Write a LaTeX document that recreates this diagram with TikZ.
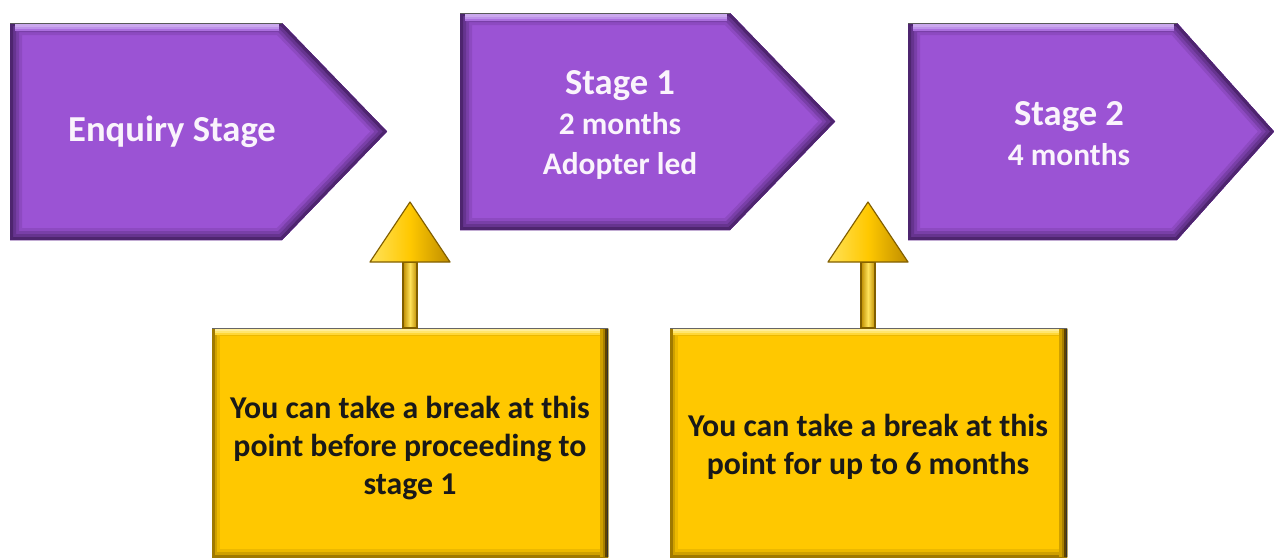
\documentclass[tikz,border=0pt]{standalone}
\usepackage{fontspec}
\setmainfont{Carlito}
\usetikzlibrary{calc}

\definecolor{stagefill}{RGB}{155,83,212}
\definecolor{stagedark}{RGB}{58,26,86}
\definecolor{stagelight}{RGB}{190,146,234}
\definecolor{stagetextcol}{RGB}{250,244,252}
\definecolor{notefill}{RGB}{255,200,0}
\definecolor{notedark}{RGB}{96,68,0}
\definecolor{notelight}{RGB}{255,230,110}
\definecolor{goldlight}{RGB}{255,226,90}
\definecolor{golddark}{RGB}{190,140,0}
\definecolor{goldline}{RGB}{130,95,0}

\tikzset{
  stagetext/.style={text=stagetextcol, align=center, inner sep=0pt,
    font=\bfseries\fontsize{15.7}{20}\selectfont},
  notetext/.style={text=black!90, align=center, inner sep=0pt,
    font=\bfseries\fontsize{15.9}{19}\selectfont},
}

% bevelled pentagon arrow: left, top, shoulder, tip, bottom
\newcommand\StagePentagon[5]{%
  \begin{scope}
    \def\outline{(#1,#2) -- (#3,#2) -- (#4,{(#2+#5)/2}) -- (#3,#5) -- (#1,#5) -- cycle}
    \clip \outline;
    \fill[stagefill] (#1,#2) rectangle (#4,#5);
    \foreach \w/\c in {12/{stagefill!85!stagedark}, 9/{stagefill!65!stagedark},
                       6/{stagefill!45!stagedark}, 3/{stagefill!20!stagedark}}
      \draw[\c, line width=\w pt, line join=miter] \outline;
    \foreach \w/\c in {8/{stagefill!55!stagelight}, 6/{stagelight}, 3.5/{stagelight!80!white}}
      \draw[\c, line width=\w pt] (#1+5,#2) -- (#3-3,#2);
    \draw[black!65, line width=1pt] (#1,#2) -- (#3,#2);
  \end{scope}}

% bevelled note box: left, top, right, bottom
\newcommand\NoteBox[4]{%
  \begin{scope}
    \clip (#1,#2) rectangle (#3,#4);
    \fill[notefill] (#1,#2) rectangle (#3,#4);
    \foreach \w/\c in {8/{notefill!88!notedark}, 5/{notefill!70!notedark}, 2.5/{notefill!40!notedark}}
      \draw[\c, line width=\w pt] (#1,#2) rectangle (#3,#4);
    \foreach \w/\c in {7/{notefill!50!notelight}, 5/{notelight}, 3/{notelight!70!white}}
      \draw[\c, line width=\w pt] (#1+3,#2) -- (#3-6,#2);
    \foreach \w/\c in {8/{notefill!70!notedark}, 5.5/{notefill!45!notedark}, 3/{notedark}, 1.5/{black!80}}
      \draw[\c, line width=\w pt] (#3,#2+1) -- (#3,#4);
    \draw[black!60, line width=1pt] (#1,#2) -- (#3,#2);
  \end{scope}}

% gold up arrow from a box top (#1) to a point (#2)
\newcommand\GoldArrow[2]{%
  \shade[left color=golddark, right color=golddark, middle color=goldlight,
         draw=goldline, line width=0.6pt]
    ($(#1)+(-7,0)$) rectangle ($(#2)+(7,60)$);
  \shade[left color=goldlight, right color=golddark, middle color=notefill,
         draw=goldline, line width=0.6pt, line join=round]
    ($(#2)+(-40,60)$) -- ($(#2)+(40,60)$) -- (#2) -- cycle;}

\begin{document}
\begin{tikzpicture}[x=0.5pt, y=-0.5pt]
  \path[use as bounding box] (0,0) rectangle (1274,558);
  \clip (0,0) rectangle (1274,558);

  % stage arrows
  \StagePentagon{10}{23}{282}{387}{240}
  \StagePentagon{460}{13}{730}{835}{230}
  \StagePentagon{908}{23}{1177}{1274}{240}

  \node[stagetext, font=\bfseries\fontsize{18.3}{22}\selectfont] (enq) at (172,132) {Enquiry Stage};
  \node[stagetext] (st1) at (620,125)
    {{\fontsize{18.3}{20}\selectfont Stage 1}\\2 months\\Adopter led};
  \node[stagetext] (st2) at (1069,134)
    {{\fontsize{18.3}{20}\selectfont Stage 2}\\4 months};

  % break notes
  \NoteBox{212}{328}{608}{557}
  \NoteBox{670}{328}{1067}{557}

  \node[notetext] (n1) at (410,448)
    {You can take a break at this\\point before proceeding to\\stage 1};
  \node[notetext] (n2) at (868,447)
    {You can take a break at this\\point for up to 6 months};

  \coordinate (n1top) at (410,328);
  \coordinate (n2top) at (868,328);
  \coordinate (gap1) at (410,202);
  \coordinate (gap2) at (868,202);

  \GoldArrow{n1top}{gap1}
  \GoldArrow{n2top}{gap2}
\end{tikzpicture}
\end{document}
